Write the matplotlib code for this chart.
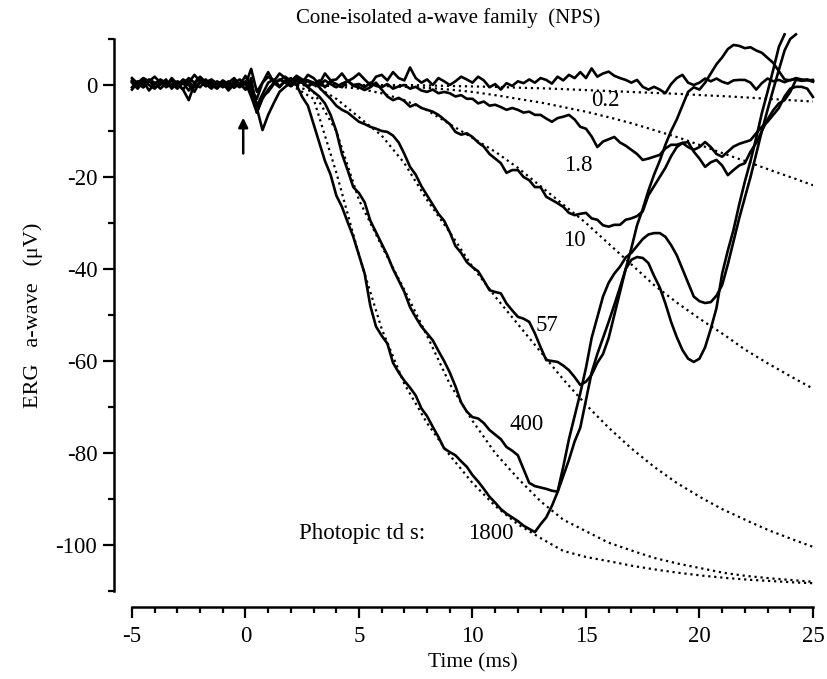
import numpy as np
import matplotlib
matplotlib.use("Agg")
import matplotlib.pyplot as plt

plt.rcParams["font.family"] = ["Liberation Serif", "DejaVu Serif"]
plt.rcParams["axes.unicode_minus"] = False

# time grid of the recorded traces (ms)
t = np.arange(121) * 0.25 - 5

# recorded a-waves, one value per 0.25 ms from -5 to 25 ms (uV)
nan = np.nan
trace_02 = [1.0, 0.5, 1.5, 0.8, 0.2, 1.2, 0.5, -0.5, 0.8, 0.2, 1.5, 0.5, 1.8, 0.6, 1.2, 0.3,
            0.8, -0.5, 0.5, 1.2, 0.0, 3.5, -1.5, 0.5, 1.8, 0.8, 2.5, 1.5, 0.5, 1.8, 0.5, 2.2,
            1.5, 0.2, 2.5, 1.0, 1.2, 2.5, 0.8, 1.5, 2.5, 1.2, 0.0, 1.8, 2.2, 1.0, 2.8, 1.5,
            1.0, 3.8, 1.5, 0.5, 1.2, 0.0, 1.5, 0.8, 0.0, 0.8, 1.8, 1.2, 0.5, 1.8, 1.0, -0.5,
            0.2, -1.0, 0.4, -0.2, 0.8, 0.4, 1.2, 0.5, 1.5, 1.1, 0.3, 1.8, 1.0, 2.2, 1.5, 2.8,
            1.5, 3.6, 1.8, 2.5, 2.9, 2.0, 1.5, 1.1, 0.5, 1.1, -0.4, -1.0, -0.4, -1.0, -1.8, 0.2,
            1.5, 2.2, 0.5, 0.0, 0.5, 1.4, 0.8, 1.4, 0.7, 0.3, 1.0, 1.1, 1.1, 0.5, -1.0, 0.4,
            1.4, 0.8, 1.1, 0.6, 1.1, 1.3, 0.9, 1.1, 0.7]
trace_18 = [-0.5, 0.8, 0.2, 1.2, 0.5, -0.8, 0.3, 1.0, -0.5, 0.5, -1.2, 0.2, 1.5, 0.2, -0.8, 0.5,
            -0.2, 0.8, -0.5, 0.3, -1.0, 0.5, -4.5, -2.0, 0.5, 1.2, -0.3, 0.8, 1.5, 0.2, 0.8, -0.3,
            0.5, -0.2, 1.0, 0.2, -0.5, 0.3, 0.8, 0.0, 0.2, -0.5, 0.5, -0.2, -0.5, 0.2, -0.8, -0.3,
            0.0, -0.8, -0.4, -1.2, -1.5, -1.0, -1.8, -1.5, -1.8, -2.5, -2.2, -3.0, -3.0, -4.0, -3.6, -4.5,
            -4.3, -4.8, -5.4, -5.0, -5.4, -6.0, -5.8, -6.5, -6.5, -7.3, -8.0, -7.2, -6.9, -6.5, -7.5, -9.1,
            -9.5, -11.2, -13.5, -12.3, -11.8, -11.3, -12.5, -13.2, -14.1, -15.0, -16.3, -16.0, -15.6, -15.2, -13.8, -13.0,
            -13.0, -12.6, -12.4, -14.5, -16.0, -17.8, -16.8, -16.3, -17.5, -19.6, -18.5, -17.5, -17.0, -14.5, -12.6, -10.0,
            -7.5, -5.5, -4.0, -3.3, -1.5, 1.1, 1.0, 1.2, 0.8]
trace_10 = [0.8, -0.5, 1.0, 0.0, -0.8, 0.5, -0.3, 1.5, 0.2, -1.0, 0.8, -0.5, 0.5, 1.2, -0.2, 0.8,
            0.0, -0.8, 1.0, -0.3, 0.5, -2.5, -6.0, -3.0, -1.0, 0.5, -0.5, 1.0, 0.2, 1.5, 0.5, 0.8,
            0.0, 1.0, -0.5, 0.8, 0.2, -0.5, 1.0, -0.2, -0.5, -1.1, -0.5, 0.5, -1.0, -2.5, -3.3, -2.8,
            -3.5, -4.7, -4.2, -5.0, -5.4, -5.8, -6.5, -7.5, -8.5, -10.2, -10.8, -10.5, -11.3, -12.5, -13.4, -15.0,
            -16.0, -17.0, -19.1, -18.5, -18.5, -20.0, -20.7, -22.2, -22.2, -24.3, -25.0, -25.7, -26.5, -27.8, -28.3, -28.0,
            -27.8, -29.0, -29.3, -30.5, -30.8, -30.4, -30.4, -29.3, -29.0, -28.5, -27.5, -24.0, -22.0, -20.0, -18.0, -15.5,
            -13.5, -12.6, -13.5, -14.1, -13.5, -12.4, -13.5, -15.0, -15.6, -14.5, -13.4, -12.8, -12.4, -12.0, -10.5, -9.1,
            -8.0, -6.5, -5.0, -2.5, -0.8, -0.4, -0.4, -0.8, -2.6]
trace_57 = [1.5, 0.3, -0.5, 0.8, 1.8, 0.5, -0.2, 1.0, 0.0, 1.2, 0.5, 2.2, 0.8, -0.2, 1.0, 0.3,
            -0.5, 0.5, 1.5, 0.0, 2.0, -1.0, -3.0, 0.5, 2.8, 0.5, 1.0, 1.8, 0.8, 2.0, 1.2, 1.0,
            0.5, -0.5, -1.8, -3.0, -4.5, -5.4, -6.0, -7.0, -8.0, -8.5, -9.1, -9.5, -10.0, -10.2, -11.0, -12.5,
            -15.0, -17.8, -19.5, -22.0, -24.0, -26.0, -28.0, -29.5, -32.0, -35.0, -36.5, -38.5, -39.6, -40.5, -42.5, -44.6,
            -45.0, -45.3, -47.5, -49.0, -50.4, -50.8, -51.5, -54.0, -57.0, -59.8, -60.0, -60.2, -61.0, -62.0, -63.5, -65.2,
            -64.5, -63.0, -60.4, -58.5, -55.0, -50.0, -45.0, -40.0, -35.5, -30.5, -27.0, -23.0, -19.5, -16.5, -13.0, -10.0,
            -7.5, -4.5, -1.5, -0.5, -1.0, 0.5, 2.5, 4.5, 6.0, 7.8, 8.7, 8.5, 8.0, 8.2, 7.5, 7.0,
            5.9, 4.8, 3.0, 1.2, 1.0, 1.5, 1.2, 1.0, 1.1]
trace_400 = [0.5, -0.8, 0.8, -1.2, 0.3, 1.0, -0.5, 0.2, -0.8, 0.6, 0.0, -1.5, 0.8, -0.3, 0.5, -0.5,
             1.0, 0.2, -0.6, 0.5, -1.0, 1.5, -6.0, -2.5, -1.5, 0.2, 1.2, 0.5, -0.3, 1.0, 0.5, -0.5,
             -1.5, -2.5, -4.0, -6.5, -10.0, -15.0, -18.5, -22.2, -23.5, -25.5, -29.5, -32.0, -34.5, -37.0, -40.0, -42.5,
             -45.0, -48.3, -50.5, -52.5, -54.0, -55.5, -57.8, -60.0, -62.5, -65.5, -69.0, -71.0, -72.2, -72.5, -73.5, -75.0,
             -76.0, -77.0, -78.7, -79.5, -80.5, -83.5, -86.5, -87.2, -87.5, -87.8, -88.2, -88.4, -83.0, -77.0, -72.0, -67.0,
             -61.5, -55.0, -50.5, -46.0, -43.0, -41.0, -39.5, -37.5, -36.5, -35.0, -33.5, -32.5, -32.2, -32.2, -33.0, -34.8,
             -37.0, -40.0, -43.0, -46.0, -47.0, -47.4, -47.2, -45.8, -43.5, -39.0, -34.0, -29.0, -24.5, -20.0, -15.0, -10.0,
             -5.4, -1.0, 3.3, 7.5, 10.0, 11.0, nan, nan, nan]
trace_1800 = [-1.0, 0.5, -0.5, 1.0, -0.5, 0.0, 1.2, -0.8, 0.5, -1.0, -3.3, 0.2, -0.5, 1.0, 0.0, -0.8,
              0.5, -1.2, 0.2, -0.5, 0.8, -1.5, -5.0, -9.8, -6.5, -3.9, -1.5, -0.4, 0.5, 0.0, -2.6, -4.5,
              -8.5, -12.5, -16.5, -19.5, -24.0, -26.5, -29.8, -33.0, -37.0, -41.0, -48.0, -52.5, -54.5, -56.2, -60.4, -62.5,
              -64.3, -65.8, -67.5, -70.3, -72.0, -74.3, -76.5, -79.0, -79.8, -80.5, -81.8, -83.0, -84.8, -86.2, -87.8, -89.5,
              -90.8, -92.2, -93.2, -94.0, -94.8, -95.8, -96.5, -97.2, -95.5, -94.0, -91.5, -88.5, -85.0, -81.5, -77.5, -74.5,
              -68.5, -62.5, -58.5, -55.0, -51.5, -47.8, -44.0, -40.0, -38.0, -37.4, -37.6, -38.7, -41.5, -44.0, -47.5, -51.5,
              -54.8, -57.6, -59.5, -60.2, -59.5, -57.0, -53.0, -48.5, -41.0, -36.0, -31.5, -26.0, -21.0, -16.5, -11.5, -6.1,
              -1.5, 3.3, 8.3, 11.0, nan, nan, nan, nan, nan]

# model fits (dotted), sampled every 1 ms from 2 to 25 ms
fit_t = np.arange(2, 26)
fit_02 = [0, 0, 0, 0, 0, 0, -0.1, -0.2, -0.3, -0.4, -0.6, -0.7, -0.9, -1.1, -1.3, -1.5,
          -1.7, -1.9, -2.2, -2.4, -2.7, -3.0, -3.3, -3.6]
fit_18 = [0, 0, 0, -0.1, -0.2, -0.4, -0.6, -1.0, -1.5, -2.2, -3.0, -3.8, -4.8, -5.8, -7.0, -8.3,
          -9.8, -11.3, -13.0, -14.8, -16.5, -18.3, -20.0, -21.8]
fit_10 = [0, 0, -0.3, -0.8, -1.8, -3.3, -5.5, -8.5, -11.5, -14.5, -18.0, -22.0, -26.0, -30.0, -34.5, -39.0,
          -43.5, -47.3, -50.8, -54.0, -57.5, -60.5, -63.3, -66.0]
fit_57 = [0, 0, -3.0, -7.0, -11.0, -17.0, -25.0, -32.0, -39.5, -46.0, -52.0, -58.0, -64.0, -69.5, -74.5, -79.0,
          -83.0, -86.5, -89.5, -92.2, -94.5, -96.7, -98.6, -100.4]
fit_400 = [0, -1.5, -10.0, -25.0, -35.0, -44.5, -54.5, -65.0, -73.0, -80.0, -85.5, -90.5, -94.5, -97.0, -99.5, -101.2,
           -102.8, -104.0, -105.0, -106.0, -106.7, -107.2, -107.6, -108.0]
fit_1800 = [0, -3.0, -19.0, -37.0, -53.0, -65.0, -73.5, -80.5, -86.5, -91.5, -95.5, -98.5, -101.3, -102.6, -103.5, -104.5,
            -105.3, -106.0, -106.6, -107.1, -107.5, -107.8, -108.1, -108.3]

traces = [trace_02, trace_18, trace_10, trace_57, trace_400, trace_1800]
fits = [fit_02, fit_18, fit_10, fit_57, fit_400, fit_1800]
labels = ["0.2", "1.8", "10", "57", "400", "1800"]
label_x = [15.85, 14.65, 14.5, 13.3, 12.4, 10.8]
label_y = [-3.3, -17.4, -33.7, -52.2, -73.9, -97.4]

fs = 16.5
fig = plt.figure(figsize=(8.27, 6.79), dpi=100)
ax = fig.add_axes([0.1596, 0.1296, 0.8234, 0.8130])

fine_t = np.linspace(2, 25, 300)
for fit in fits:
    ax.plot(fine_t, np.interp(fine_t, fit_t, fit), color="black", lw=1.6,
            linestyle=(0, (1, 1.7)))
for tr in traces:
    ax.plot(t, tr, color="black", lw=1.9, clip_on=False, solid_joinstyle="round")

for lab, x, y in zip(labels, label_x, label_y):
    ax.text(x, y, lab, fontsize=fs, ha="center", va="center")
ax.text(5.15, -97.4, "Photopic td s:", fontsize=fs, ha="center", va="center")

ax.annotate("", xy=(-0.1, -6.5), xytext=(-0.1, -15.5),
            arrowprops=dict(arrowstyle="-|>", lw=1.8, color="black", mutation_scale=14))

ax.set_xlim(-5, 25)
ax.set_ylim(-110, 10)
for s in ["top", "right"]:
    ax.spines[s].set_visible(False)
ax.spines["left"].set_position(("outward", 13))
ax.spines["bottom"].set_position(("outward", 11.5))
ax.spines["left"].set_linewidth(1.8)
ax.spines["bottom"].set_linewidth(1.8)
ax.set_xticks(range(-5, 26, 5))
ax.set_xticks(range(-5, 26, 1), minor=True)
ax.set_yticks(range(-100, 1, 20))
ax.set_yticks(range(-110, 11, 10), minor=True)
ax.tick_params(which="major", length=8, width=1.6, labelsize=fs)
ax.tick_params(axis="x", which="major", pad=6)
ax.tick_params(axis="y", which="major", pad=4)
ax.tick_params(which="minor", length=4.5, width=1.6)

ax.set_xlabel("Time (ms)", fontsize=15.5, labelpad=4)
ax.set_ylabel("ERG   a-wave   (\u03bcV)", fontsize=16, labelpad=9)
fig.text(448 / 827, 1 - 18 / 679, "Cone-isolated a-wave family  (NPS)",
         fontsize=15, ha="center", va="center")

fig.savefig("out.png", dpi=100)
